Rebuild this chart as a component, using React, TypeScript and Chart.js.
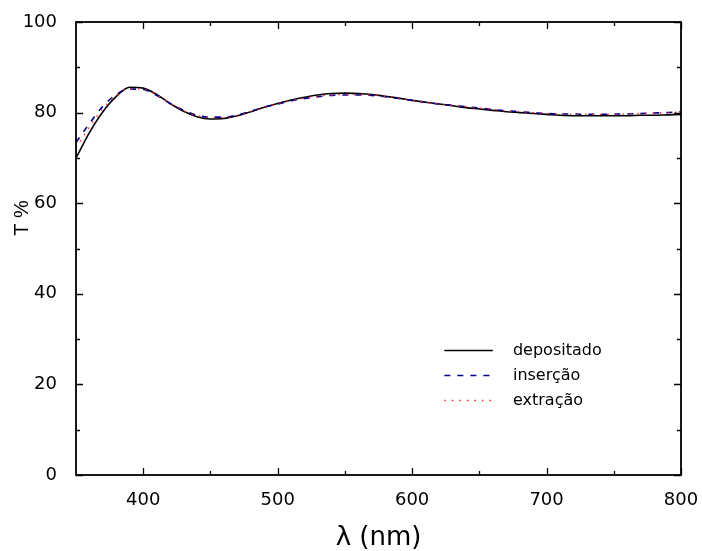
import React, { useEffect, useRef } from "react";
import { Chart, registerables } from "chart.js";

Chart.register(...registerables);

const wavelengths = [
  350, 360, 370, 380, 390, 400, 410, 420, 430, 440, 450, 460, 470, 480, 490, 500,
  510, 520, 530, 540, 550, 560, 570, 580, 590, 600, 610, 620, 630, 640, 650, 660,
  670, 680, 690, 700, 710, 720, 730, 740, 750, 760, 770, 780, 790, 800,
];

const depositado = [
  70.0, 75.6, 80.2, 83.6, 85.6, 85.4, 84.0, 82.0, 80.3, 79.1, 78.6, 78.7, 79.3, 80.2, 81.2, 82.0,
  82.8, 83.4, 83.9, 84.2, 84.3, 84.2, 84.0, 83.6, 83.2, 82.7, 82.3, 81.9, 81.5, 81.1, 80.8, 80.5,
  80.2, 80.0, 79.8, 79.6, 79.4, 79.3, 79.3, 79.3, 79.3, 79.3, 79.4, 79.4, 79.5, 79.6,
];

const insercao = [
  73.4, 77.6, 81.4, 84.0, 85.2, 85.1, 83.8, 82.0, 80.5, 79.4, 79.0, 79.0, 79.5, 80.3, 81.2, 81.9,
  82.6, 83.1, 83.5, 83.8, 83.9, 83.9, 83.8, 83.5, 83.1, 82.7, 82.3, 81.9, 81.6, 81.3, 81.0, 80.7,
  80.4, 80.2, 80.0, 79.8, 79.7, 79.7, 79.6, 79.6, 79.7, 79.7, 79.8, 79.9, 80.0, 80.2,
];

const extracao = [
  72.2, 76.8, 80.9, 83.8, 85.3, 85.2, 83.9, 82.0, 80.4, 79.3, 78.9, 78.9, 79.4, 80.2, 81.2, 81.9,
  82.7, 83.2, 83.6, 83.9, 84.0, 84.0, 83.9, 83.6, 83.2, 82.7, 82.3, 81.9, 81.6, 81.3, 81.0, 80.7,
  80.4, 80.2, 80.0, 79.8, 79.7, 79.6, 79.6, 79.6, 79.6, 79.7, 79.8, 79.9, 80.0, 80.1,
];

const seriesLabels = ["depositado", "inserção", "extração"];

const xMajorTicks = [400, 500, 600, 700, 800];
const xMinorTicks = [450, 550, 650, 750];
const yMajorTicks = [0, 20, 40, 60, 80, 100];
const yMinorTicks = [10, 30, 50, 70, 90];

const xTitle = "λ (nm)";
const yTitle = "           T %";

const frameTicksPlugin = {
  id: "frameTicks",
  afterDatasetsDraw(chart: any) {
    const { ctx, chartArea } = chart;
    const { left, right, top, bottom } = chartArea;
    const xs = chart.scales.x;
    const ys = chart.scales.y;
    const major = 7;
    const minor = 4;
    ctx.save();
    ctx.strokeStyle = "#000";
    ctx.lineWidth = 1.3;
    ctx.beginPath();
    const xt = (vals: number[], len: number) => {
      vals.forEach((v) => {
        const px = Math.round(xs.getPixelForValue(v)) + 0.5;
        ctx.moveTo(px, bottom);
        ctx.lineTo(px, bottom - len);
        ctx.moveTo(px, top);
        ctx.lineTo(px, top + len);
      });
    };
    const yt = (vals: number[], len: number) => {
      vals.forEach((v) => {
        const py = Math.round(ys.getPixelForValue(v)) + 0.5;
        ctx.moveTo(left, py);
        ctx.lineTo(left + len, py);
        ctx.moveTo(right, py);
        ctx.lineTo(right - len, py);
      });
    };
    xt(xMajorTicks, major);
    xt(xMinorTicks, minor);
    yt(yMajorTicks, major);
    yt(yMinorTicks, minor);
    ctx.stroke();
    ctx.lineWidth = 1.8;
    ctx.strokeRect(left, top, right - left, bottom - top);
    ctx.restore();
  },
};

const legendPlugin = {
  id: "insideLegend",
  afterDraw(chart: any) {
    const { ctx } = chart;
    const xs = chart.scales.x;
    const ys = chart.scales.y;
    const x0 = xs.getPixelForValue(624);
    const x1 = xs.getPixelForValue(660);
    const tx = xs.getPixelForValue(675);
    const y0 = ys.getPixelForValue(27.5);
    const rowH = 25;
    ctx.save();
    chart.data.datasets.forEach((ds: any, i: number) => {
      const y = Math.round(y0 + i * rowH) + 0.5;
      ctx.beginPath();
      ctx.strokeStyle = ds.borderColor;
      ctx.lineWidth = ds.borderWidth;
      ctx.setLineDash(ds.borderDash || []);
      ctx.moveTo(x0, y);
      ctx.lineTo(x1, y);
      ctx.stroke();
      ctx.setLineDash([]);
      ctx.fillStyle = "#000";
      ctx.font = "16px 'DejaVu Sans'";
      ctx.textAlign = "left";
      ctx.textBaseline = "middle";
      ctx.fillText(ds.label, tx, y);
    });
    ctx.restore();
  },
};

export default function App() {
  const ref = useRef<HTMLCanvasElement | null>(null);

  useEffect(() => {
    if (!ref.current) return;
    const mk = (vals: number[]) => wavelengths.map((x, i) => ({ x, y: vals[i] }));
    const chart = new Chart(ref.current, {
      type: "line",
      data: {
        datasets: [
          {
            label: seriesLabels[0],
            data: mk(depositado),
            borderColor: "#000000",
            borderWidth: 1.6,
            pointRadius: 0,
            cubicInterpolationMode: "monotone",
            order: 3,
          },
          {
            label: seriesLabels[1],
            data: mk(insercao),
            borderColor: "#00008b",
            borderWidth: 1.6,
            borderDash: [6, 7],
            pointRadius: 0,
            cubicInterpolationMode: "monotone",
            order: 2,
          },
          {
            label: seriesLabels[2],
            data: mk(extracao),
            borderColor: "#ff2020",
            borderWidth: 1.4,
            borderDash: [1.5, 6],
            pointRadius: 0,
            cubicInterpolationMode: "monotone",
            order: 1,
          },
        ],
      },
      options: {
        responsive: false,
        animation: false,
        layout: { padding: { left: 0, top: 22, right: 21, bottom: 0 } },
        plugins: { legend: { display: false }, tooltip: { enabled: false } },
        scales: {
          x: {
            type: "linear",
            min: 350,
            max: 800,
            grid: { display: false },
            border: { display: false },
            afterBuildTicks: (s: any) => {
              s.ticks = xMajorTicks.map((v) => ({ value: v }));
            },
            afterFit: (s: any) => {
              s.height = 76;
              s.paddingLeft = 0;
              s.paddingRight = 0;
            },
            ticks: {
              padding: 7,
              color: "#000",
              maxRotation: 0,
              font: { family: "'DejaVu Sans'", size: 18 },
            },
            title: {
              display: true,
              text: xTitle,
              color: "#000",
              padding: { top: 0, bottom: 0 },
              font: { family: "'DejaVu Sans'", size: 26, lineHeight: 1 },
            },
          },
          y: {
            type: "linear",
            min: 0,
            max: 100,
            grid: { display: false },
            border: { display: false },
            afterBuildTicks: (s: any) => {
              s.ticks = yMajorTicks.map((v) => ({ value: v }));
            },
            afterFit: (s: any) => {
              s.width = 76;
            },
            ticks: {
              padding: 11,
              color: "#000",
              font: { family: "'DejaVu Sans'", size: 18 },
            },
            title: {
              display: true,
              text: yTitle,
              color: "#000",
              padding: { top: 10, bottom: 0 },
              font: { family: "'Liberation Sans'", size: 20, lineHeight: 1.2 },
            },
          },
        },
      },
      plugins: [frameTicksPlugin, legendPlugin],
    } as any);
    return () => chart.destroy();
  }, []);

  return (
    <div style={{ position: "fixed", left: 0, top: 0, width: 702, height: 551, background: "#fff" }}>
      <canvas ref={ref} width={702} height={551} style={{ display: "block" }} />
    </div>
  );
}
